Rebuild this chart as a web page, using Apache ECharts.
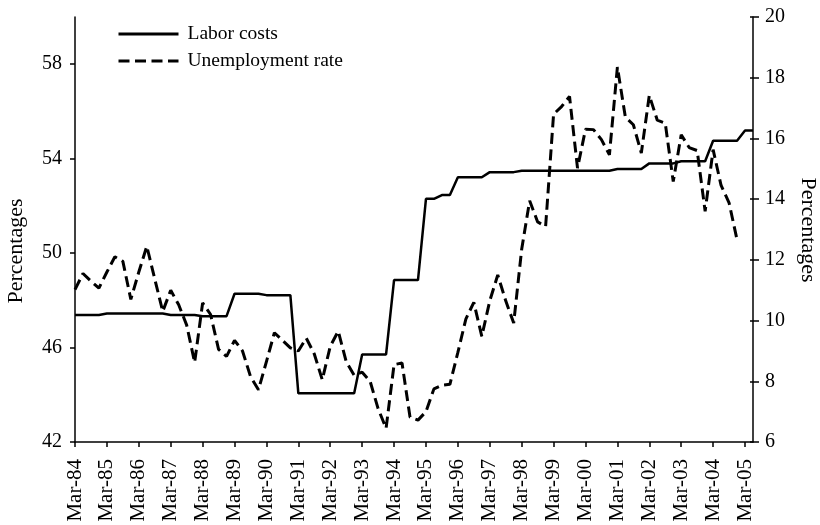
<!DOCTYPE html>
<html>
<head>
<meta charset="utf-8">
<script src="https://cdn.jsdelivr.net/npm/echarts@6/dist/echarts.min.js"></script>
<style>html,body{margin:0;padding:0;background:#fff;}#c{width:820px;height:525px;}</style>
</head>
<body>
<div id="c"></div>
<script>
var categories = [
'Mar-84','Jun-84','Sep-84','Dec-84','Mar-85','Jun-85','Sep-85','Dec-85',
'Mar-86','Jun-86','Sep-86','Dec-86','Mar-87','Jun-87','Sep-87','Dec-87',
'Mar-88','Jun-88','Sep-88','Dec-88','Mar-89','Jun-89','Sep-89','Dec-89',
'Mar-90','Jun-90','Sep-90','Dec-90','Mar-91','Jun-91','Sep-91','Dec-91',
'Mar-92','Jun-92','Sep-92','Dec-92','Mar-93','Jun-93','Sep-93','Dec-93',
'Mar-94','Jun-94','Sep-94','Dec-94','Mar-95','Jun-95','Sep-95','Dec-95',
'Mar-96','Jun-96','Sep-96','Dec-96','Mar-97','Jun-97','Sep-97','Dec-97',
'Mar-98','Jun-98','Sep-98','Dec-98','Mar-99','Jun-99','Sep-99','Dec-99',
'Mar-00','Jun-00','Sep-00','Dec-00','Mar-01','Jun-01','Sep-01','Dec-01',
'Mar-02','Jun-02','Sep-02','Dec-02','Mar-03','Jun-03','Sep-03','Dec-03',
'Mar-04','Jun-04','Sep-04','Dec-04','Mar-05','Jun-05'
];
var laborCosts = [
47.38,47.38,47.38,47.38,
47.44,47.44,47.44,47.44,47.44,47.44,47.44,47.44,
47.38,47.38,47.38,47.38,
47.33,47.33,47.33,47.33,
48.28,48.28,48.28,48.28,
48.22,48.22,48.22,48.22,
44.06,44.06,44.06,44.06,44.06,44.06,44.06,44.06,
45.71,45.71,45.71,45.71,
48.86,48.86,48.86,48.86,
52.30,52.30,
52.46,52.46,
53.21,53.21,53.21,53.21,
53.43,53.43,53.43,53.43,
53.49,53.49,53.49,53.49,53.49,53.49,53.49,53.49,53.49,53.49,53.49,53.49,
53.56,53.56,53.56,53.56,
53.80,53.80,53.80,53.80,
53.89,53.89,53.89,53.89,
54.76,54.76,54.76,54.76,
55.19,55.19
];
var unemploymentRate = [
11.02,11.55,11.30,11.07,11.60,12.10,11.95,10.70,
11.60,12.45,11.37,10.30,11.00,10.52,9.85,8.62,
10.58,10.20,9.05,8.82,9.35,9.00,8.16,7.72,
8.65,9.60,9.35,9.10,9.00,9.42,8.90,8.05,
9.15,9.65,8.65,8.20,8.30,8.00,7.10,6.45,
8.55,8.60,6.82,6.72,7.00,7.75,7.87,7.90,
8.95,10.05,10.60,9.48,10.65,11.50,10.65,9.92,
12.35,13.95,13.25,13.10,16.80,17.05,17.38,15.02,
16.30,16.29,15.96,15.46,18.35,16.70,16.45,15.52,
17.42,16.60,16.50,14.58,16.12,15.70,15.60,13.60,
15.63,14.45,13.88,12.66,null,null
];
var leftTicks = [42,46,50,54,58];
var rightTicks = [6,8,10,12,14,16,18,20];

var FONT = 'Liberation Serif';
var chart = echarts.init(document.getElementById('c'), null, {renderer:'canvas'});
chart.setOption({
  backgroundColor:'#ffffff',
  animation:false,
  grid:{left:75, right:67, top:17, bottom:83, containLabel:false},
  legend:{
    orient:'vertical', left:117, top:24, padding:0, itemWidth:60, itemHeight:20, itemGap:7,
    itemStyle:{opacity:0},
    lineStyle:{width:3},
    textStyle:{fontFamily:FONT, fontSize:19.5, color:'#000', padding:[0,0,0,4]},
    data:['Labor costs','Unemployment rate']
  },
  xAxis:{
    type:'category', data:categories, boundaryGap:false,
    axisLine:{lineStyle:{color:'#000', width:1.5}},
    axisTick:{interval:3, length:5, lineStyle:{color:'#000', width:1.5}},
    axisLabel:{interval:3, rotate:90, margin:17, fontFamily:FONT, fontSize:21, color:'#000'},
    splitLine:{show:false}
  },
  yAxis:[
    {type:'value', position:'left', min:42, max:60,
     axisLine:{show:true, lineStyle:{color:'#000', width:1.5}},
     axisTick:{show:true, length:5, customValues:leftTicks, lineStyle:{color:'#000', width:1.5}},
     axisLabel:{customValues:leftTicks, margin:13, fontFamily:FONT, fontSize:20, color:'#000'},
     splitLine:{show:false}},
    {type:'value', position:'right', min:6, max:20, interval:2,
     axisLine:{show:true, lineStyle:{color:'#000', width:1.5}},
     axisTick:{show:true, length:6, customValues:rightTicks, lineStyle:{color:'#000', width:1.5}},
     axisLabel:{customValues:rightTicks, margin:12, fontFamily:FONT, fontSize:20, color:'#000'},
     splitLine:{show:false}},
    {type:'value', position:'right', min:6, max:20, interval:2,
     axisLine:{show:false},
     axisTick:{show:true, inside:true, length:3, lineStyle:{color:'#000', width:1.5}},
     axisLabel:{show:false}, splitLine:{show:false}}
  ],
  series:[
    {name:'Labor costs', type:'line', yAxisIndex:0, data:laborCosts, symbol:'none',
     lineStyle:{color:'#000', width:2.5}, itemStyle:{color:'#000'}},
    {name:'Unemployment rate', type:'line', yAxisIndex:1, data:unemploymentRate, symbol:'none',
     lineStyle:{color:'#000', width:3, type:[11,5.5]}, itemStyle:{color:'#000'}}
  ],
  graphic:[
    {type:'text', x:16, y:251, rotation:Math.PI/2,
     style:{text:'Percentages', font:'22px "Liberation Serif"', fill:'#000', textAlign:'center', textVerticalAlign:'middle'}},
    {type:'text', x:808, y:230, rotation:-Math.PI/2,
     style:{text:'Percentages', font:'22px "Liberation Serif"', fill:'#000', textAlign:'center', textVerticalAlign:'middle'}}
  ]
});
</script>
</body>
</html>
